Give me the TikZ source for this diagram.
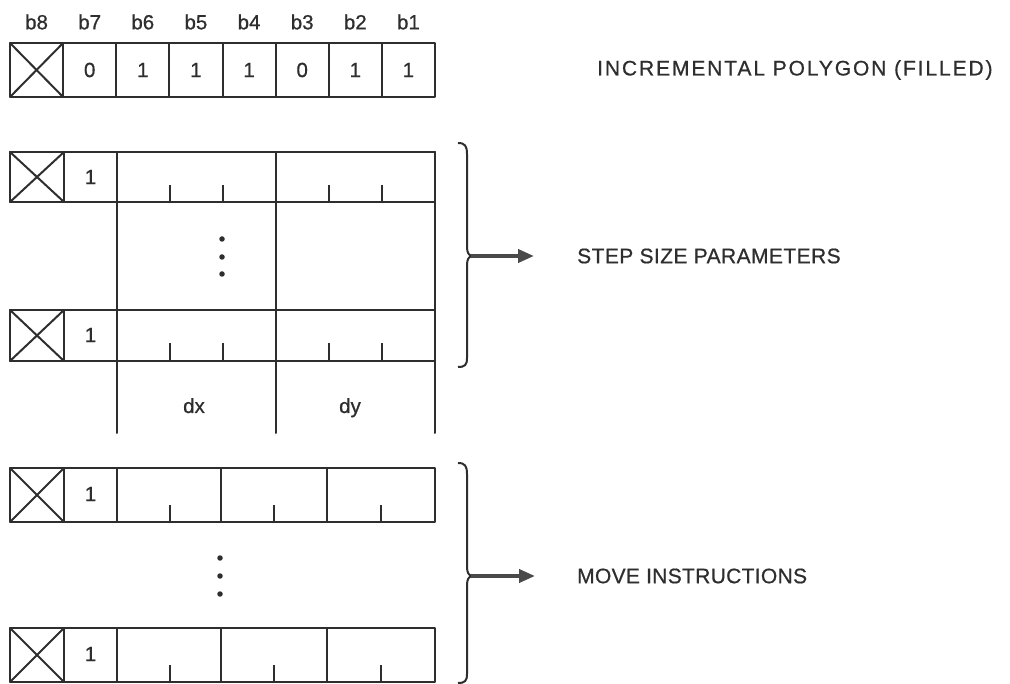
\documentclass[tikz,border=0pt]{standalone}
\usepackage{fontspec}
\setmainfont{Liberation Sans}
\usetikzlibrary{arrows.meta}
\definecolor{ink}{HTML}{2E2E2E}
\definecolor{arrowgray}{HTML}{4A4A4A}
\tikzset{
  grid/.style={draw=ink, line width=2pt, line cap=round, line join=round},
  tick/.style={draw=ink, line width=2pt},
  lbl/.style={inner sep=0pt, font=\fontsize{20.5}{24}\selectfont\addfontfeature{FakeBold=0.7}, text=ink},
  side/.style={inner sep=0pt, anchor=west, font=\fontsize{21}{24}\selectfont\addfontfeature{FakeBold=0.7}, text=ink},
  dotmark/.style={fill=ink, circle, inner sep=0pt, minimum size=5.5pt},
  bracearrow/.style={draw=arrowgray, line width=3.8pt, -{Triangle[length=16pt,width=13pt]}},
  bracepath/.style={draw=ink, line width=2pt},
}
\begin{document}
\begin{tikzpicture}[x=1pt,y=-1pt]
\useasboundingbox (0,0) rectangle (1010,684);
% ---------- Row 1: incremental polygon header ----------
\foreach \i/\t [count=\k from 0] in {b8,b7,b6,b5,b4,b3,b2,b1}{
  \node[lbl] (h\k) at ({10+53.125*\k+26.56},22) {\t};
}
\draw[grid] (10,43) rectangle (435,97);
\foreach \k in {1,...,7}{ \draw[grid] ({10+53.125*\k},43) -- ({10+53.125*\k},97); }
\draw[grid] (10,43) -- (63.1,97) (10,97) -- (63.1,43);
\foreach \v [count=\k from 1] in {0,1,1,1,0,1,1}{
  \node[lbl] (c\k) at ({10+53.125*\k+26.56},70) {\v};
}
\node[side] (title) at (597,70) {\addfontfeature{LetterSpace=9}INCREMENTAL POLYGON (FILLED)};
% ---------- Step size parameters ----------
\draw[grid] (10,152) -- (435,152);
\draw[grid] (10,202) -- (435,202);
\draw[grid] (10,310) -- (435,310);
\draw[grid] (10,361) -- (435,361);
\draw[grid] (10,152) -- (10,202) (64,152) -- (64,202);
\draw[grid] (10,310) -- (10,361) (64,310) -- (64,361);
\draw[grid] (10,152) -- (64,202) (10,202) -- (64,152);
\draw[grid] (10,310) -- (64,361) (10,361) -- (64,310);
\foreach \xx in {117,276,435}{ \draw[grid] (\xx,152) -- (\xx,433); }
\foreach \xx in {170,223,329,382}{
  \draw[tick] (\xx,185) -- (\xx,202);
  \draw[tick] (\xx,343) -- (\xx,361);
}
\node[lbl] (s1) at (90.5,177) {1};
\node[lbl] (s2) at (90.5,335) {1};
\node[dotmark] (sd1) at (222,239) {};
\node[dotmark] (sd2) at (222,257) {};
\node[dotmark] (sd3) at (222,274) {};
\node[lbl, anchor=base] (dx) at (194,413) {dx};
\node[lbl, anchor=base] (dy) at (350,413) {dy};
% brace 1
\draw[bracepath] (458,143) .. controls (465,143) and (467,146) .. (467,154)
  -- (467,247) .. controls (467,253) and (469,256) .. (473,256)
  .. controls (469,256) and (467,259) .. (467,265)
  -- (467,358) .. controls (467,365) and (465,367) .. (458,367);
\coordinate (b1tip) at (471,256);
\coordinate (b1end) at (534,256);
\draw[bracearrow] (b1tip) -- (b1end);
\node[side] (step) at (577,256) {\addfontfeature{LetterSpace=2}STEP SIZE PARAMETERS};
% ---------- Move instructions ----------
\foreach \yt/\yb/\n in {468/522/a,628/682/b}{
  \draw[grid] (10,\yt) rectangle (435,\yb);
  \foreach \xx in {64,117,221,327}{ \draw[grid] (\xx,\yt) -- (\xx,\yb); }
  \draw[grid] (10,\yt) -- (64,\yb) (10,\yb) -- (64,\yt);
  \foreach \xx in {170,274,381}{ \draw[tick] (\xx,\yb-17) -- (\xx,\yb); }
}
\node[lbl] (m1) at (90.5,494) {1};
\node[lbl] (m2) at (90.5,654) {1};
\node[dotmark] (md1) at (220,558) {};
\node[dotmark] (md2) at (220,576) {};
\node[dotmark] (md3) at (220,594) {};
% brace 2
\draw[bracepath] (458,463) .. controls (465,463) and (467,466) .. (467,474)
  -- (467,567) .. controls (467,573) and (469,576) .. (473,576)
  .. controls (469,576) and (467,579) .. (467,585)
  -- (467,674) .. controls (467,681) and (465,683) .. (458,683);
\coordinate (b2tip) at (471,576);
\coordinate (b2end) at (535,576);
\draw[bracearrow] (b2tip) -- (b2end);
\node[side] (move) at (577,576) {\addfontfeature{LetterSpace=1.5}MOVE INSTRUCTIONS};
\end{tikzpicture}
\end{document}
